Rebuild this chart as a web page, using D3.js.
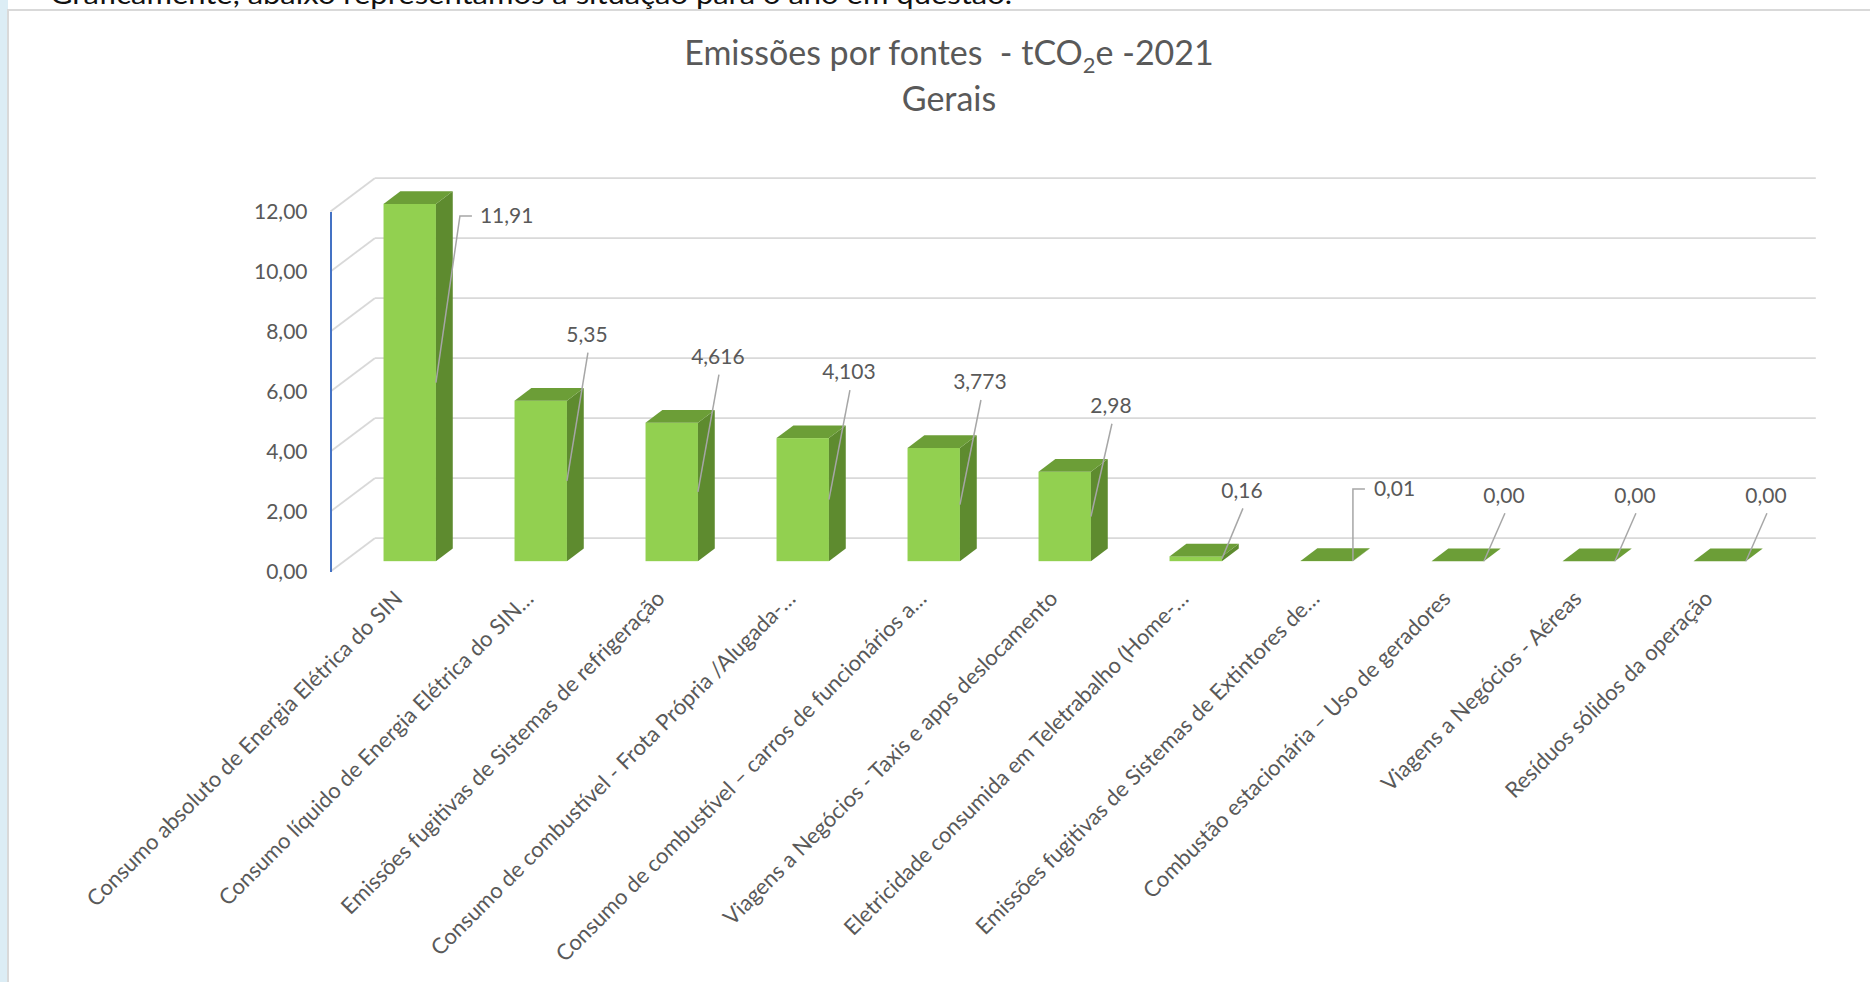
<!DOCTYPE html>
<html>
<head>
<meta charset="utf-8">
<script src="https://cdn.jsdelivr.net/npm/d3@7"></script>
<style>
  body { margin: 0; background: #fff; }
  text { font-family: Lato, "Open Sans", sans-serif; }
</style>
</head>
<body>
<div id="chart"></div>
<script>
// data
var categories = [
    "Consumo absoluto de Energia Elétrica do SIN",
    "Consumo líquido de Energia Elétrica do SIN…",
    "Emissões fugitivas de Sistemas de refrigeração",
    "Consumo de combustível - Frota Própria /Alugada-…",
    "Consumo de combustível – carros de funcionários a…",
    "Viagens a Negócios - Taxis e apps deslocamento",
    "Eletricidade consumida em Teletrabalho (Home-…",
    "Emissões fugitivas de Sistemas de Extintores de…",
    "Combustão estacionária – Uso de geradores",
    "Viagens a Negócios - Aéreas",
    "Resíduos sólidos da operação"
];
var values = [11.91, 5.35, 4.616, 4.103, 3.773, 2.98, 0.16, 0.01, 0, 0, 0];
var valueLabels = ["11,91", "5,35", "4,616", "4,103", "3,773", "2,98", "0,16", "0,01", "0,00", "0,00", "0,00"];
var yTicks = [0, 2, 4, 6, 8, 10, 12];

var svgWidth = 1870;
var svgHeight = 982;

// front plane of the 3d box, and how far the back wall sits
var plot = { left: 330.5, right: 1771.5, top: 211.5, bottom: 571.5 };
var depth = { dx: 44.3, dy: -33.3 };
var barFront = 0.31, barBack = 0.69;
// labels that Excel had pushed beside the bar
var sideLabels = { 0: "right", 7: "elbow" };

var colors = { front: "#92d050", side: "#5e8b2f", top: "#6c9e37", grid: "#d9d9d9",
               axis: "#4472c4", text: "#595959", leader: "#a6a6a6" };

var svg = d3.select("#chart").append("svg")
    .attr("width", svgWidth)
    .attr("height", svgHeight);

// page bits around the chart
svg.append("rect").attr("x", 0).attr("y", 0).attr("width", 8).attr("height", svgHeight)
    .attr("fill", "#dcedf5");
svg.append("rect").attr("x", 8).attr("y", 10).attr("width", svgWidth).attr("height", svgHeight)
    .attr("fill", "#fff").attr("stroke", "#d9d9d9").attr("stroke-width", 2);
svg.append("text")
    .attr("x", 50).attr("y", 4)
    .attr("font-size", 27).attr("fill", "#111")
    .attr("textLength", 962).attr("lengthAdjust", "spacingAndGlyphs")
    .text("Graficamente, abaixo representamos a situação para o ano em questão.");

// title
var title = svg.append("text")
    .attr("x", 949).attr("y", 65)
    .attr("text-anchor", "middle")
    .attr("font-size", 34)
    .attr("fill", colors.text)
    .style("white-space", "pre");
title.append("tspan").text("Emissões por fontes  - tCO");
title.append("tspan").attr("font-size", 22).attr("dy", 8).text("2");
title.append("tspan").attr("dy", -8).text("e -2021");
svg.append("text")
    .attr("x", 949).attr("y", 111)
    .attr("text-anchor", "middle")
    .attr("font-size", 34)
    .attr("fill", colors.text)
    .text("Gerais");

// scales
var xScale = d3.scaleBand()
    .domain(categories)
    .range([plot.left, plot.right])
    .paddingInner(0.6)
    .paddingOuter(0.3);

var yScale = d3.scaleLinear()
    .domain([0, 12])
    .range([plot.bottom, plot.top]);

function pt(x, y, f) {
    return [x + depth.dx * f, y + depth.dy * f];
}

var chartGroup = svg.append("g");

// back wall + side wall gridlines
var grid = chartGroup.append("g");
yTicks.forEach(function(v) {
    var a = pt(plot.left, yScale(v), 1);
    var b = pt(plot.right, yScale(v), 1);
    grid.append("line")
        .attr("x1", a[0]).attr("y1", a[1]).attr("x2", b[0]).attr("y2", b[1])
        .attr("stroke", colors.grid).attr("stroke-width", 1.8);
    grid.append("line")
        .attr("x1", plot.left).attr("y1", yScale(v)).attr("x2", a[0]).attr("y2", a[1])
        .attr("stroke", colors.grid).attr("stroke-width", 1.8);
});

// y axis
var ptBr = d3.formatLocale({ decimal: ",", thousands: ".", grouping: [3], currency: ["R$", ""] });
var leftAxis = d3.axisLeft(yScale)
    .tickValues(yTicks)
    .tickFormat(ptBr.format(".2f"))
    .tickSize(0)
    .tickPadding(23);

var yAxis = chartGroup.append("g")
    .attr("transform", "translate(" + plot.left + ",0)")
    .call(leftAxis);
yAxis.select(".domain").attr("stroke", colors.axis).attr("stroke-width", 2);
yAxis.selectAll("text")
    .attr("font-size", 21)
    .attr("fill", colors.text)
    .style("font-family", "Lato, sans-serif");

// bars
var bw = xScale.bandwidth();
var bars = chartGroup.append("g");
function poly(points) {
    return points.map(function(p) { return p.join(","); }).join(" ");
}

categories.forEach(function(c, i) {
    var x0 = xScale(c), x1 = x0 + bw;
    var yt = yScale(values[i]), yb = yScale(0);
    var g = bars.append("g");
    var ft = pt(x0, yt, barFront), fb = pt(x1, yb, barFront);
    g.append("rect")
        .attr("x", ft[0]).attr("y", ft[1])
        .attr("width", fb[0] - ft[0]).attr("height", Math.max(0, fb[1] - ft[1]))
        .attr("fill", colors.front);
    g.append("polygon")
        .attr("points", poly([pt(x1, yt, barFront), pt(x1, yt, barBack), pt(x1, yb, barBack), pt(x1, yb, barFront)]))
        .attr("fill", colors.side);
    g.append("polygon")
        .attr("points", poly([pt(x0, yt, barFront), pt(x0, yt, barBack), pt(x1, yt, barBack), pt(x1, yt, barFront)]))
        .attr("fill", colors.top);
});

// data labels with leader lines
var labels = chartGroup.append("g");
categories.forEach(function(c, i) {
    var x1 = xScale(c) + bw;
    var top = pt(x1, yScale(values[i]), barFront);
    var bot = pt(x1, yScale(0), barFront);
    var bx = top[0];
    var midY = (top[1] + bot[1]) / 2;
    var mode = sideLabels[i];
    var lx, ly, anchor, path;
    if (mode === "right") {
        lx = bx + 44; ly = top[1] + 12; anchor = "start";
        path = [[bx, midY], [bx + 24, ly], [bx + 36, ly]];
    } else if (mode === "elbow") {
        lx = bx + 21; ly = top[1] - 72; anchor = "start";
        path = [[bx, midY], [bx, ly], [bx + 12, ly]];
    } else {
        lx = bx + 20; ly = top[1] - 66; anchor = "middle";
        path = [[bx, midY], [lx + 1, ly + 18]];
    }
    labels.append("path")
        .attr("d", d3.line()(path))
        .attr("fill", "none")
        .attr("stroke", colors.leader)
        .attr("stroke-width", 1.5);
    labels.append("text")
        .attr("x", lx).attr("y", ly)
        .attr("dy", "0.35em")
        .attr("text-anchor", anchor)
        .attr("font-size", 21)
        .attr("fill", colors.text)
        .text(valueLabels[i]);
});

// category labels, rotated
var catLabels = chartGroup.append("g");
categories.forEach(function(c) {
    var cx = xScale(c) + bw / 2 + 8;
    catLabels.append("text")
        .attr("transform", "translate(" + cx + ",600) rotate(-45)")
        .attr("text-anchor", "end")
        .attr("font-size", 22)
        .attr("fill", colors.text)
        .text(c);
});
</script>
</body>
</html>
